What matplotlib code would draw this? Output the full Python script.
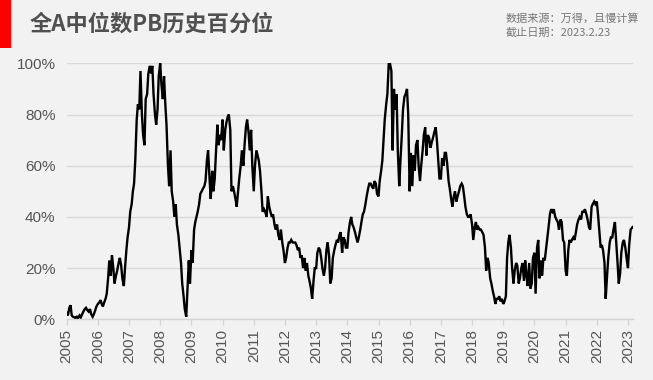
import matplotlib
matplotlib.use("Agg")
import matplotlib.pyplot as plt
from matplotlib.patches import Rectangle
import pandas as pd
import numpy as np

# ---- data (percentile %, semi-monthly samples) ----
y2005 = [2.5, 1.5, 4.5, 5.5, 1.5, 1.0, 0.8, 0.5, 1.0, 0.5, 1.5, 0.8, 2.0, 3.0, 4.0, 4.5, 3.5, 3.0, 4.0, 2.0, 1.0, 2.0, 3.5, 5.0]
y2006 = [6, 6.5, 7.5, 6, 5, 6.5, 8, 10, 16, 23, 17, 25, 20, 14, 17, 19, 22, 24, 21, 16, 13, 20, 27, 32]
y2007 = [36, 42, 45, 50, 53, 62, 78, 84, 82, 97, 80, 72, 68, 86, 88, 96, 99, 96, 99, 88, 80, 76, 82, 95]
y2008 = [100, 92, 86, 95, 84, 76, 60, 52, 66, 50, 46, 40, 45, 37, 33, 28, 22, 14, 9, 4, 1, 11, 23, 14]
y2009 = [27, 22, 35, 38, 40, 42, 45, 49, 50, 51, 52, 54, 62, 66, 55, 47, 58, 50, 55, 65, 76, 68, 72, 70]
y2010 = [78, 66, 74, 77, 79, 80, 74, 50, 52, 50, 47, 44, 50, 55, 60, 66, 60, 68, 75, 78, 73, 66, 74, 60]
y2011 = [50, 60, 66, 64, 62, 58, 50, 42, 43, 42, 40, 48, 44, 42, 40, 41, 37, 35, 37, 33, 31, 35, 30, 27]
y2012 = [22, 24, 28, 30, 30, 31, 30, 30, 30, 29, 27, 28, 24, 25, 20, 24, 19, 22, 17, 15, 12, 8, 15, 20]
y2013 = [20, 26, 28, 27, 24, 20, 17, 20, 27, 30, 25, 14, 16, 24, 27, 29, 31, 30, 33, 34, 26, 32, 31, 28]
y2014 = [28, 34, 38, 40, 37, 36, 34, 32, 30, 32, 35, 38, 41, 42, 45, 48, 51, 53, 53, 52, 51, 54, 53, 49]
y2015 = [48, 54, 58, 62, 70, 78, 84, 88, 100, 100, 97, 66, 90, 82, 88, 66, 52, 62, 72, 82, 87, 88, 90, 80]
y2016 = [50, 65, 52, 64, 58, 68, 70, 60, 54, 60, 66, 72, 75, 64, 72, 71, 67, 69, 71, 73, 75, 70, 62, 55]
y2017 = [55, 63, 60, 65, 65, 61, 54, 51, 47, 44, 48, 50, 46, 48, 50, 52, 53, 52, 48, 44, 41, 40, 40, 41]
y2018 = [37, 31, 36, 38, 35, 36, 35, 35, 34, 33, 28, 19, 24, 22, 16, 14, 11, 9, 6, 8, 8, 9, 7, 8]
y2019 = [6, 7, 9, 24, 30, 33, 28, 20, 14, 19, 22, 21, 14, 16, 20, 22, 15, 23, 17, 13, 22, 12, 14, 24]
y2020 = [26, 10, 28, 31, 16, 23, 17, 24, 23, 27, 32, 36, 41, 43, 42, 43, 40, 39, 38, 35, 39, 38, 31, 30]
y2021 = [19, 17, 27, 31, 30, 31, 32, 31, 34, 37, 39, 40, 39, 42, 42, 43, 41, 39, 36, 35, 44, 45, 46, 45]
y2022 = [46, 41, 34, 28, 29, 27, 22, 8, 17, 24, 30, 32, 32, 35, 38, 31, 22, 14, 18, 26, 30, 31, 28, 24]
y2023 = [20, 29, 35, 36]

years = [str(y) for y in range(2005, 2024)]
title = "全A中位数PB历史百分位"
source_lines = ["数据来源：万得，且慢计算", "截止日期：2023.2.23"]
end_date = "2023-02-23"

values = (y2005 + y2006 + y2007 + y2008 + y2009 + y2010 + y2011 + y2012 + y2013 +
          y2014 + y2015 + y2016 + y2017 + y2018 + y2019 + y2020 + y2021 + y2022 + y2023)
dates = pd.date_range("2005-01-01", periods=len(values), freq="SMS")
dates = dates[:-1].append(pd.DatetimeIndex([pd.Timestamp(end_date)]))
vals = np.array(values) / 100.0

# ---- figure ----
plt.rcParams['font.family'] = ['Liberation Sans', 'Noto Sans CJK SC', 'DejaVu Sans']
W, H = 653, 380
fig = plt.figure(figsize=(W / 100, H / 100), dpi=100, facecolor="#f2f2f2")
ax = fig.add_axes([66.7 / W, 1 - 319.3 / H, (632.5 - 66.7) / W, (319.3 - 63.3) / H])
ax.set_facecolor("#f2f2f2")

ax.plot(dates, vals, color="black", linewidth=1.7, solid_joinstyle="miter", zorder=3)

ax.set_ylim(0, 1)
ax.set_xlim(pd.Timestamp("2005-01-01"), pd.Timestamp(end_date))
ax.set_yticks(np.arange(0, 1.01, 0.2))
ax.set_yticklabels([f"{int(round(v * 100))}%" for v in np.arange(0, 1.01, 0.2)])
ax.yaxis.grid(True, color="#d9d9d9", linewidth=1.0, zorder=0)
ax.set_axisbelow(True)

ax.set_xticks([pd.Timestamp(f"{y}-01-01") for y in years])
ax.set_xticklabels(years, rotation=90)

for s in ["top", "right", "left"]:
    ax.spines[s].set_visible(False)
ax.spines["bottom"].set_color("#d4d4d4")
ax.spines["bottom"].set_linewidth(1.0)
ax.tick_params(axis="y", length=0, pad=8, labelsize=11, labelcolor="#555555")
ax.tick_params(axis="x", length=4, width=1, color="#d4d4d4", pad=3, labelsize=11, labelcolor="#555555")

# header
fig.patches.append(Rectangle((0, 1 - 48 / H), 11 / W, 48 / H, transform=fig.transFigure,
                             facecolor="#ff0000", edgecolor="none"))
fig.text(30 / W, 1 - 24 / H, title, fontsize=16, fontweight="bold", color="#505050",
         va="center", ha="left", family=['Noto Sans CJK SC', 'DejaVu Sans'])
fig.text(506 / W, 1 - 18 / H, source_lines[0], fontsize=8, color="#777777",
         va="center", ha="left", family=['Noto Sans CJK SC', 'DejaVu Sans'])
fig.text(506 / W, 1 - 33 / H, source_lines[1], fontsize=8, color="#777777",
         va="center", ha="left", family=['Noto Sans CJK SC', 'DejaVu Sans'])

fig.savefig("out.png", dpi=100, facecolor=fig.get_facecolor())
